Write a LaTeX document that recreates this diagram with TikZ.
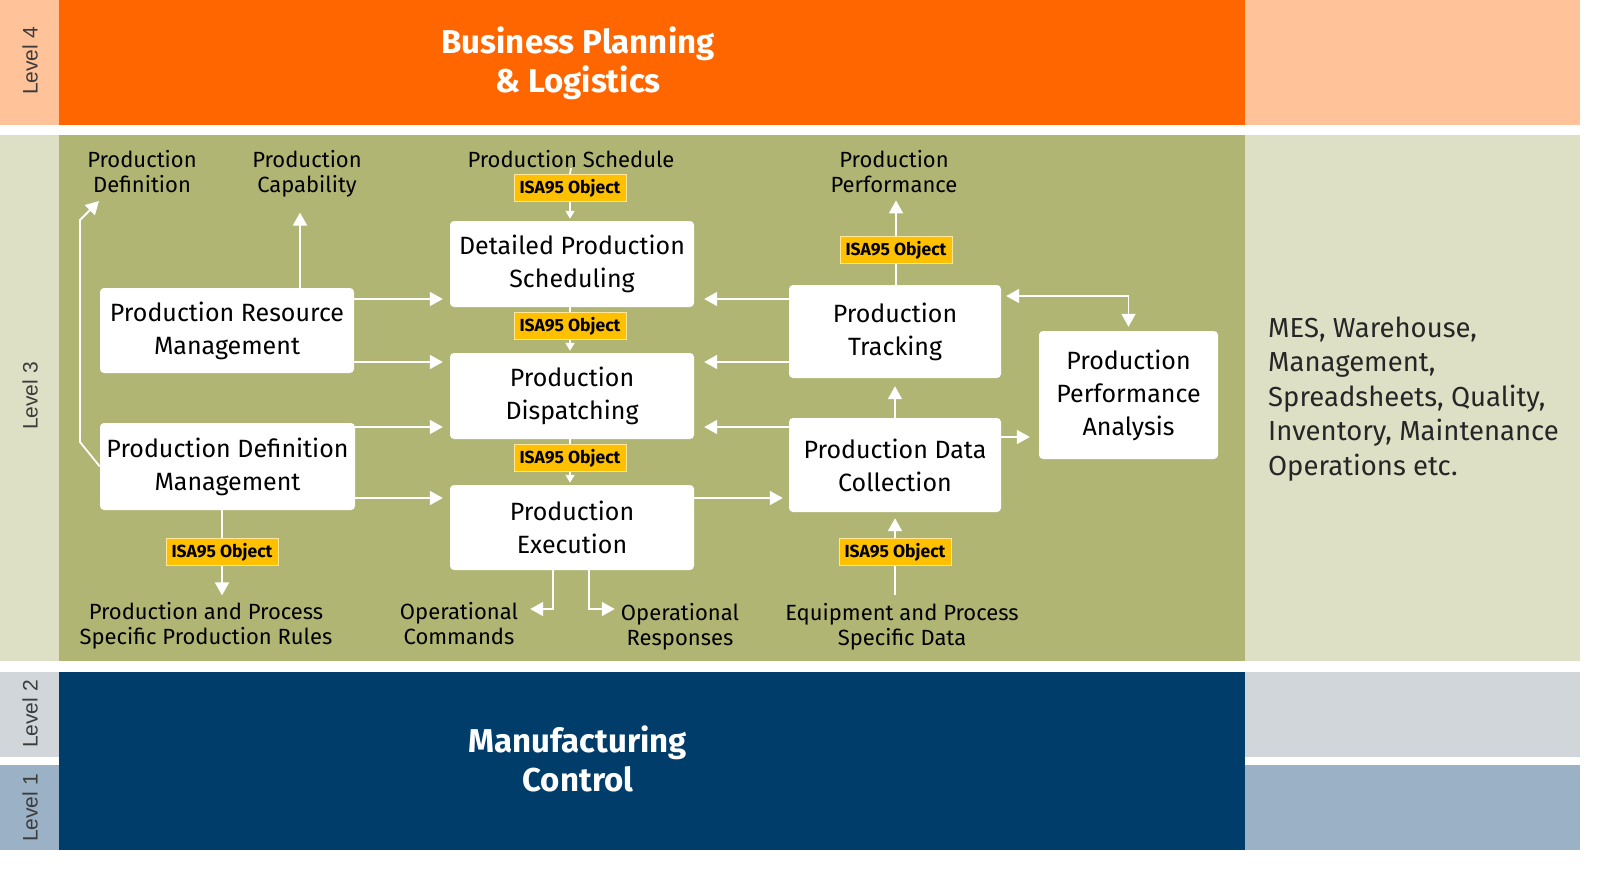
\documentclass[tikz,border=0pt]{standalone}
\usepackage{fontspec}
\usepackage{tikz}
\usetikzlibrary{arrows.meta,positioning,calc}
\setmainfont{Fira Sans}
\newfontfamily\levelfont{Liberation Sans}
\definecolor{bizorange}{HTML}{FF6600}
\definecolor{bizlight}{HTML}{FFC299}
\definecolor{mesolive}{HTML}{B0B574}
\definecolor{meslight}{HTML}{DEE0C5}
\definecolor{ctrlnavy}{HTML}{003D6B}
\definecolor{ctrlgrey}{HTML}{D1D6DB}
\definecolor{ctrlblue}{HTML}{9BB1C6}
\definecolor{isayellow}{HTML}{FFC000}
\definecolor{isaedge}{HTML}{FFE699}
\definecolor{levelgrey}{HTML}{3C3C3C}

\begin{document}
\begin{tikzpicture}[
    x=1pt, y=-1pt,
    activity/.style={fill=white, rounded corners=4pt, align=center, inner sep=0pt, font=\fontsize{25}{33}\selectfont},
    isatag/.style={fill=isayellow, draw=isaedge, line width=1pt, minimum width=112pt, minimum height=27pt, inner sep=0pt, font=\bfseries\fontsize{17.5}{20}\selectfont},
    infolabel/.style={align=center, inner sep=0pt, font=\fontsize{22}{25}\selectfont},
    levellabel/.style={rotate=90, text=levelgrey, font=\levelfont\fontsize{21}{25}\selectfont},
    bandtitle/.style={align=center, text=white, font=\bfseries\fontsize{33}{39}\selectfont},
    flow/.style={draw=white, line width=1.8pt, -{Triangle[length=13pt,width=14pt]}, shorten >=7pt},
    smallflow/.style={draw=white, line width=1.8pt, -{Triangle[length=8pt,width=9pt]}, shorten >=2pt},
    link/.style={draw=white, line width=1.8pt}
]
\useasboundingbox (0,0) rectangle (1600,880);
\fill[white] (0,0) rectangle (1600,880);
% level bands
\fill[bizlight] (0,0) rectangle (59,125);
\fill[bizorange] (59,0) rectangle (1245,125);
\fill[bizlight] (1245,0) rectangle (1580,125);
\fill[meslight] (0,135) rectangle (59,661);
\fill[mesolive] (59,135) rectangle (1245,661);
\fill[meslight] (1245,135) rectangle (1580,661);
\fill[ctrlgrey] (0,672) rectangle (59,757);
\fill[ctrlblue] (0,765) rectangle (59,850);
\fill[ctrlnavy] (59,672) rectangle (1245,850);
\fill[ctrlgrey] (1245,672) rectangle (1580,757);
\fill[ctrlblue] (1245,765) rectangle (1580,850);

\node[levellabel] (lvl4) at (30,61) {Level 4};
\node[levellabel] (lvl3) at (30,396) {Level 3};
\node[levellabel] (lvl2) at (30,714) {Level 2};
\node[levellabel] (lvl1) at (30,808) {Level 1};
\node[bandtitle] (business) at (578,63) {Business Planning\\\& Logistics};
\node[bandtitle] (control) at (578,759) {Manufacturing\\Control};
\node[anchor=west, align=left, inner sep=0pt, text=black!85, font=\fontsize{27.5}{34.5}\selectfont] (systems) at (1268,399) {MES, Warehouse,\\Management,\\Spreadsheets, Quality,\\Inventory, Maintenance\\Operations etc.};

% activities
\node[activity, minimum width=254pt, minimum height=85pt] (prm) at (227,330.5) {Production Resource\\Management};
\node[activity, minimum width=255pt, minimum height=87pt] (pdm) at (227.5,466.5) {Production Definition\\Management};
\node[activity, minimum width=244pt, minimum height=86pt] (dps) at (572,264) {Detailed Production\\Scheduling};
\node[activity, minimum width=244pt, minimum height=86pt] (dispatch) at (572,396) {Production\\Dispatching};
\node[activity, minimum width=244pt, minimum height=85pt] (execution) at (572,527.5) {Production\\Execution};
\node[activity, minimum width=212pt, minimum height=93pt] (tracking) at (895,331.5) {Production\\Tracking};
\node[activity, minimum width=212pt, minimum height=94pt] (collection) at (895,465) {Production Data\\Collection};
\node[activity, minimum width=179pt, minimum height=128pt] (analysis) at (1128.5,395) {Production\\Performance\\Analysis};

\node[isatag] (tagsched) at (570,188) {ISA95 Object};
\node[isatag] (tagdispatch) at (570,326) {ISA95 Object};
\node[isatag] (tagexec) at (570,458) {ISA95 Object};
\node[isatag] (tagperf) at (896,250) {ISA95 Object};
\node[isatag] (tagrules) at (222,552) {ISA95 Object};
\node[isatag] (tagdata) at (895,552) {ISA95 Object};

\node[infolabel] (lbldef) at (142,172) {Production\\Definition};
\node[infolabel] (lblcap) at (307,174) {Production\\Capability};
\node[infolabel] (lblsched) at (571,159) {Production Schedule};
\node[infolabel] (lblperf) at (894,172) {Production\\Performance};
\node[infolabel] (lblrules) at (206,626) {Production and Process\\Specific Production Rules};
\node[infolabel] (lblcmd) at (459,624) {Operational\\Commands};
\node[infolabel] (lblresp) at (680,626.5) {Operational\\Responses};
\node[infolabel] (lbldata) at (902,626.5) {Equipment and Process\\Specific Data};

% connectors between activities
\draw[flow] (prm.east |- 0,299) -- (dps.west |- 0,299);
\draw[flow] (prm.east |- 0,362) -- (dispatch.west |- 0,362);
\draw[flow] (pdm.east |- 0,427) -- (dispatch.west |- 0,427);
\draw[flow] (pdm.east |- 0,498) -- (execution.west |- 0,498);
\draw[flow, shorten >=10pt] (tracking.west |- 0,299) -- (dps.east |- 0,299);
\draw[flow, shorten >=10pt] (tracking.west |- 0,362) -- (dispatch.east |- 0,362);
\draw[flow, shorten >=10pt] (collection.west |- 0,427) -- (dispatch.east |- 0,427);
\draw[flow, shorten >=6pt] (execution.east |- 0,498) -- (collection.west |- 0,498);
\draw[flow, shorten >=8pt] (collection.north) -- (tracking.south);
\draw[flow, {Triangle[length=13pt,width=14pt]}-{Triangle[length=13pt,width=14pt]}, shorten <=5pt, shorten >=4pt] (tracking.east |- 0,296) -| (analysis.north);
\draw[flow, shorten >=9pt] (collection.east |- 0,437) -- (analysis.west |- 0,437);

% ISA95 objects
\draw[link] (lblsched.south) -- (tagsched.north);
\draw[smallflow] (tagsched.south) -- (dps.north -| tagsched.south);
\draw[link] (dps.south -| tagdispatch.north) -- (tagdispatch.north);
\draw[smallflow] (tagdispatch.south) -- (dispatch.north -| tagdispatch.south);
\draw[link] (dispatch.south -| tagexec.north) -- (tagexec.north);
\draw[smallflow] (tagexec.south) -- (execution.north -| tagexec.south);
\draw[link] (tracking.north -| tagperf.south) -- (tagperf.south);
\draw[flow] (tagperf.north) -- (lblperf.south -| tagperf.north);
\draw[link] (pdm.south -| tagrules.north) -- (tagrules.north);
\draw[flow] (tagrules.south) -- (lblrules.north -| tagrules.south);
\draw[link, shorten <=8pt] (lbldata.north -| tagdata.south) -- (tagdata.south);
\draw[flow, shorten >=6pt] (tagdata.north) -- (collection.south -| tagdata.north);

% outputs
\draw[flow, shorten >=0pt] (pdm.west) -- (80,442) -- (80,220) -- ++(19,-19);
\draw[flow, shorten >=15pt] (prm.north -| 300,0) -- (lblcap.south -| 300,0);
\draw[flow, shorten >=12pt] (execution.south -| 553,0) |- (lblcmd.east |- 0,609);
\draw[flow, shorten >=6pt] (execution.south -| 589,0) |- (lblresp.west |- 0,609);
\end{tikzpicture}
\end{document}
